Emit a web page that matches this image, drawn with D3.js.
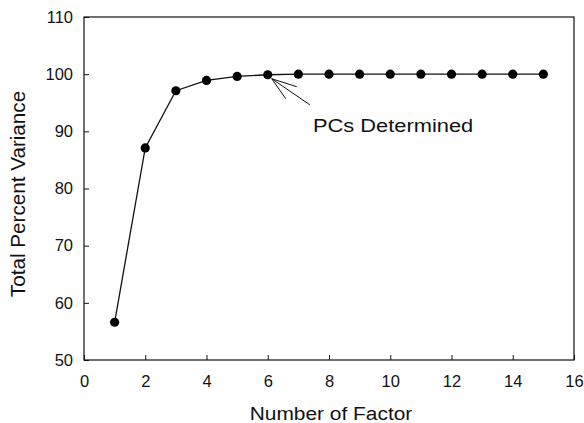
<!DOCTYPE html>
<html><head><meta charset="utf-8">
<script src="https://cdn.jsdelivr.net/npm/d3@7"></script>
<style>body{margin:0;background:#fff}text{font-family:"Liberation Sans",Arial,sans-serif;fill:#111}</style>
</head><body><svg id="c" width="584" height="423"></svg>
<script>
const factors = [1,2,3,4,5,6,7,8,9,10,11,12,13,14,15];
const variance = [56.6,87.1,97.1,98.9,99.6,99.9,100,100,100,100,100,100,100,100,100];
const xTicks = [0,2,4,6,8,10,12,14,16];
const yTicks = [50,60,70,80,90,100,110];
const annotation = "PCs Determined";

const svg = d3.select("#c");
const L=84,R=574,T=17,B=360;
const x = d3.scaleLinear().domain([0,16]).range([L,R]);
const y = d3.scaleLinear().domain([50,110]).range([B,T]);

svg.append("rect").attr("x",L).attr("y",T).attr("width",R-L).attr("height",B-T)
  .attr("fill","none").attr("stroke","#111").attr("stroke-width",1.2);

const xa = svg.append("g").attr("transform",`translate(0,${B})`)
  .call(d3.axisBottom(x).tickValues(xTicks).tickSize(-5).tickPadding(15).tickFormat(d3.format("d")));
const ya = svg.append("g").attr("transform",`translate(${L},0)`)
  .call(d3.axisLeft(y).tickValues(yTicks).tickSize(-5).tickPadding(11).tickFormat(d3.format("d")));
[xa,ya].forEach(a=>{a.select(".domain").remove();
  a.selectAll("line").attr("stroke","#111");
  a.selectAll("text").style("font-size","16.5px").style("fill","#111");});

svg.append("path").datum(factors.map((f,i)=>[f,variance[i]]))
  .attr("d",d3.line().x(d=>x(d[0])).y(d=>y(d[1])))
  .attr("fill","none").attr("stroke","#111").attr("stroke-width",1.3);
svg.selectAll("circle.p").data(factors).enter().append("circle")
  .attr("cx",d=>x(d)).attr("cy",(d,i)=>y(variance[i])).attr("r",4.6).attr("fill","#000");

// arrow
const ax = x(6)+4, ay = y(variance[5])+4;
const ex = ax+38, ey = ay+26;
svg.append("line").attr("x1",ax).attr("y1",ay).attr("x2",ex).attr("y2",ey).attr("stroke","#111").attr("stroke-width",1);
svg.append("line").attr("x1",ax).attr("y1",ay).attr("x2",ax+25).attr("y2",ay+8).attr("stroke","#111").attr("stroke-width",1);
svg.append("line").attr("x1",ax).attr("y1",ay).attr("x2",ax+14).attr("y2",ay+20).attr("stroke","#111").attr("stroke-width",1);
svg.append("text").attr("transform","translate(313,132) scale(1.15,1)").style("font-size","19px").text(annotation);

svg.append("text").attr("transform","translate(331,420) scale(1.1,1)").attr("text-anchor","middle").style("font-size","19px").text("Number of Factor");
svg.append("text").attr("transform",`translate(25,194) rotate(-90) scale(1.06,1)`).attr("text-anchor","middle").style("font-size","19.5px").text("Total Percent Variance");
</script></body></html>
